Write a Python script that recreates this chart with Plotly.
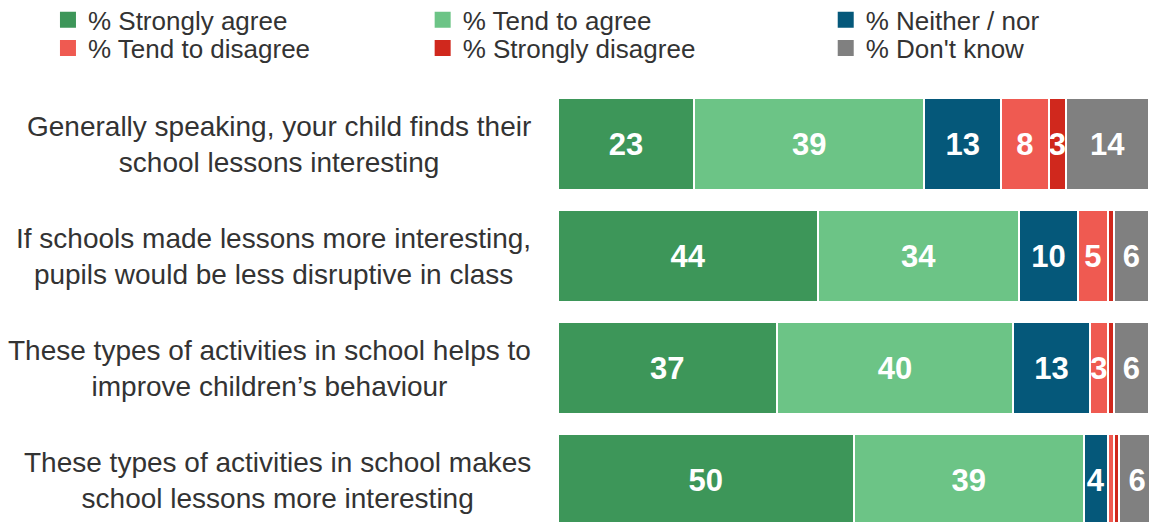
import plotly.graph_objects as go

# Survey statements (top to bottom)
statements = [
    "Generally speaking, your child finds their<br>school lessons interesting",
    "If schools made lessons more interesting,<br>pupils would be less disruptive in class",
    "These types of activities in school helps to<br>improve children\u2019s behaviour",
    "These types of activities in school makes<br>school lessons more interesting",
]

# Response shares (%) for each statement
strongly_agree = [23, 44, 37, 50]
tend_to_agree = [39, 34, 40, 39]
neither_nor = [13, 10, 13, 4]
tend_to_disagree = [8, 5, 3, 1]
strongly_disagree = [3, 1, 1, 1]
dont_know = [14, 6, 6, 6]

series = [
    ("% Strongly agree", strongly_agree, "#3d9659"),
    ("% Tend to agree", tend_to_agree, "#6cc486"),
    ("% Neither / nor", neither_nor, "#05587a"),
    ("% Tend to disagree", tend_to_disagree, "#ef5a51"),
    ("% Strongly disagree", strongly_disagree, "#d0281d"),
    ("% Don't know", dont_know, "#808080"),
]

FONT = "Liberation Sans, Arial, sans-serif"
TEXT_COLOR = "#333333"
ypos = list(range(len(statements)))

# Legend grid: 3 columns x 2 rows, one single-entry legend per cell
legend_x = [-0.863, -0.229, 0.453]
legend_y = [1.157, 1.092]

fig = go.Figure()
for k, (name, vals, color) in enumerate(series):
    fig.add_trace(go.Bar(
        name=name,
        x=vals,
        y=ypos,
        orientation="h",
        marker=dict(color=color, line=dict(color="white", width=2)),
        text=[str(v) if v >= 3 else "" for v in vals],
        textposition="inside",
        insidetextanchor="middle",
        textangle=0,
        constraintext="none",
        textfont=dict(family=FONT, size=31, color="white", weight="bold"),
        showlegend=False,
        hoverinfo="skip",
    ))
    leg_id = "legend" if k == 0 else f"legend{k + 1}"
    # legend-only swatch entry
    fig.add_trace(go.Scatter(
        name=name, x=[None], y=[None], mode="markers",
        marker=dict(symbol="square", size=17, color=color),
        legend=leg_id, showlegend=True, hoverinfo="skip",
    ))
    fig.update_layout({leg_id: dict(
        x=legend_x[k % 3], y=legend_y[k // 3],
        xanchor="left", yanchor="middle",
        font=dict(family=FONT, size=26, color=TEXT_COLOR),
        bgcolor="rgba(0,0,0,0)", itemclick=False, itemdoubleclick=False,
    )})

# Statement labels, lines centred within a right-aligned block
for i, s in enumerate(statements):
    fig.add_annotation(
        x=-0.043, xref="paper", y=i, yref="y",
        text=s, showarrow=False, xanchor="right", yanchor="middle",
        align="center", font=dict(family=FONT, size=28, color=TEXT_COLOR),
    )

fig.update_layout(
    width=1149, height=522,
    barmode="stack",
    bargap=0.179,
    plot_bgcolor="white", paper_bgcolor="white",
    margin=dict(l=558, r=0, t=88, b=0, autoexpand=False),
    showlegend=True,
    xaxis=dict(range=[0, 100], visible=False, fixedrange=True),
    yaxis=dict(range=[3.375, -0.5], visible=False, fixedrange=True),
)

fig.write_html("out.html")
